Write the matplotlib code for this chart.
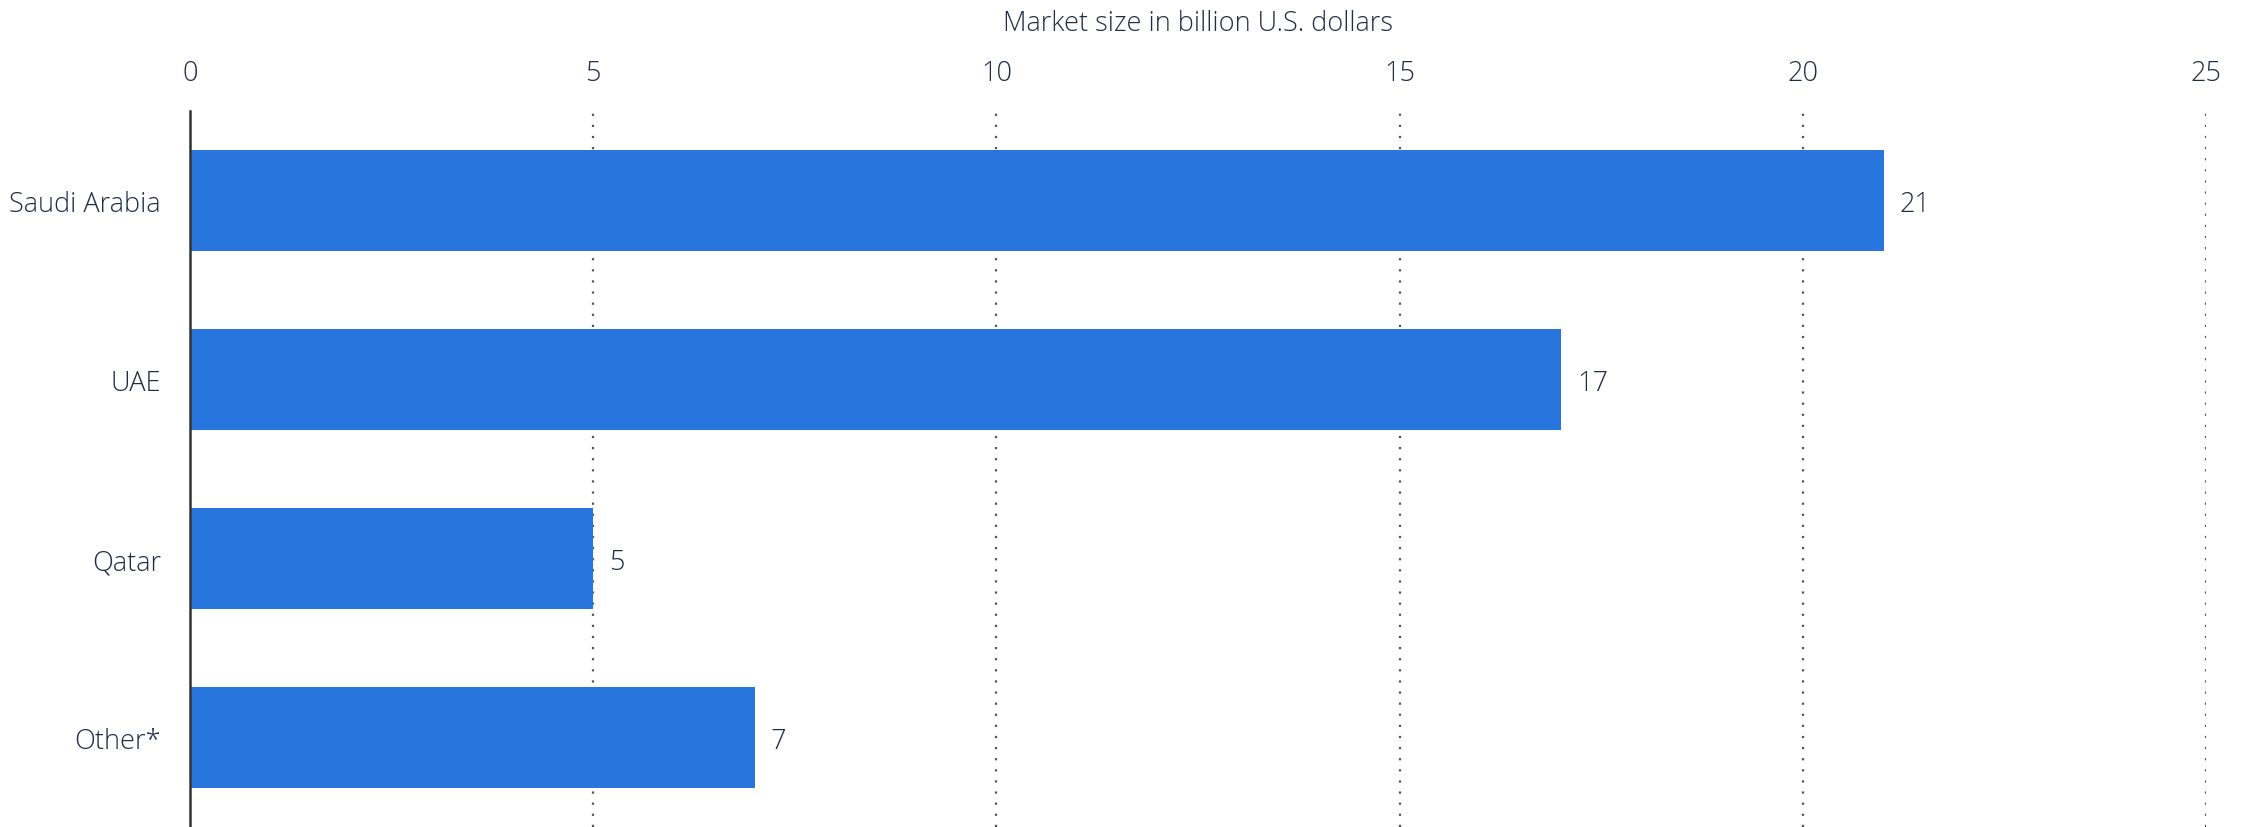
import numpy as np
import matplotlib.pyplot as plt

regions = ["Saudi Arabia", "UAE", "Qatar", "Other*"]
market_size = [21, 17, 5, 7]
x_ticks = [0, 5, 10, 15, 20, 25]

bar_color = "#2876dd"
text_color = "#1f2e44"

plt.rcParams["font.family"] = ["Open Sans", "DejaVu Sans"]

fig = plt.figure(figsize=(22.52, 8.28), dpi=100)
ax = fig.add_axes([0.0844, 0.0, 0.8952, 0.8647])

y = np.arange(len(regions))
ax.barh(y, market_size, height=0.56, color=bar_color, zorder=3)

for yi, v in zip(y, market_size):
    ax.text(v + 0.2, yi, str(v), va="center_baseline", ha="left", fontsize=19.5,
            color=text_color, fontweight="light")

ax.set_ylim(len(regions) - 0.5, -0.5)
ax.set_xlim(0, 25)
ax.set_yticks(y)
ax.set_yticklabels(regions)
ax.set_xticks(x_ticks)
ax.xaxis.tick_top()
ax.xaxis.set_label_position("top")
ax.set_xlabel("Market size in billion U.S. dollars", fontsize=19.5,
              color=text_color, labelpad=21, fontweight="light")

ax.tick_params(axis="x", length=0, pad=17, labelsize=19.5, labelcolor=text_color)
ax.tick_params(axis="y", length=0, pad=21, labelsize=19.5, labelcolor=text_color)
for lab in ax.get_xticklabels() + ax.get_yticklabels():
    lab.set_fontweight("light")

# dotted vertical guides, none at zero
for t in x_ticks[1:]:
    ax.axvline(t, color="#555555", linestyle=(0, (1, 4)), linewidth=1.6, zorder=1)

for side in ["top", "right", "bottom"]:
    ax.spines[side].set_visible(False)
ax.spines["left"].set_color("#333333")
ax.spines["left"].set_linewidth(1.8)
ax.spines["left"].set_zorder(4)

fig.savefig("out.png", dpi=100)
